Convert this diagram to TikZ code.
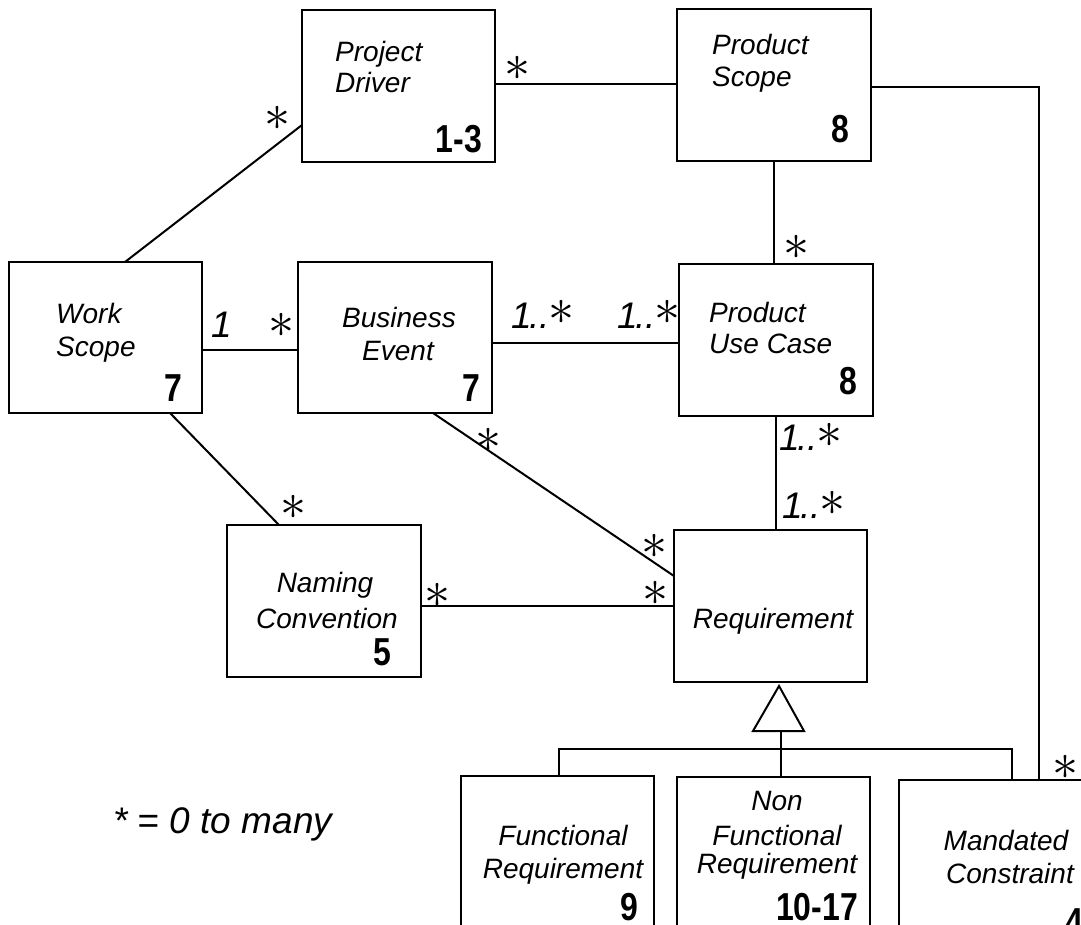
\documentclass[tikz,border=0pt]{standalone}
\usepackage{fontspec}
\usepackage{graphicx}
\setmainfont{Liberation Sans}
\newfontfamily\numfont[FakeStretch=0.82]{Liberation Sans}
\usetikzlibrary{calc}

% six-armed multiplicity star (always built from the 10pt math star) and the "one or more" label
\newcommand\mstar{{\fontsize{10}{10}\selectfont\scalebox{5.2}{$\ast$}}}
\newcommand\oneplus{1\kern-2pt.\kern-1pt.\kern-1pt\raisebox{3pt}{\mstar}}

\tikzset{
  box/.style={draw, line width=2pt, rectangle, inner sep=0pt, outer sep=0pt},
  link/.style={line width=2pt},
  ttl/.style={font=\fontsize{28}{32}\selectfont\itshape, inner sep=0pt},
  num/.style={font=\numfont\bfseries\fontsize{39}{39}\selectfont, inner sep=0pt, anchor=base east},
  mult/.style={font=\fontsize{37}{37}\selectfont\itshape, inner sep=0pt, anchor=base west},
  star/.style={inner sep=0pt},
}

\begin{document}
\begin{tikzpicture}[x=1pt,y=-1pt]
\useasboundingbox (0,0) rectangle (1081,925);
\clip (0,0) rectangle (1081,925);

% ---- class boxes ----
\node[box, minimum width=193pt, minimum height=152pt] (PD)  at (398.5,86)   {};
\node[box, minimum width=194pt, minimum height=152pt] (PS)  at (774,85)     {};
\node[box, minimum width=193pt, minimum height=151pt] (WS)  at (105.5,337.5) {};
\node[box, minimum width=194pt, minimum height=151pt] (BE)  at (395,337.5)  {};
\node[box, minimum width=194pt, minimum height=152pt] (PUC) at (776,340)    {};
\node[box, minimum width=194pt, minimum height=152pt] (NC)  at (324,601)    {};
\node[box, minimum width=193pt, minimum height=152pt] (Req) at (770.5,606)  {};
\node[box, minimum width=193pt, minimum height=184pt] (FR)  at (557.5,868)  {};
\node[box, minimum width=193pt, minimum height=183pt] (NFR) at (773.5,868.5) {};
\node[box, minimum width=193pt, minimum height=180pt] (MC)  at (995.5,870)  {};

% ---- class names ----
\node[ttl, anchor=base west] (pd1) at (335,62)  {Project};
\node[ttl, anchor=base west] (pd2) at (335,93)  {Driver};
\node[ttl, anchor=base west] (ps1) at (712,55)  {Product};
\node[ttl, anchor=base west] (ps2) at (712,87)  {Scope};
\node[ttl, anchor=base west] (ws1) at (56,323)  {Work};
\node[ttl, anchor=base west] (ws2) at (56,356)  {Scope};
\node[ttl, anchor=base] (be1) at (399,327) {Business};
\node[ttl, anchor=base] (be2) at (398,360) {Event};
\node[ttl, anchor=base west] (uc1) at (709,322) {Product};
\node[ttl, anchor=base west] (uc2) at (709,353) {Use Case};
\node[ttl, anchor=base] (nc1) at (325,592) {Naming};
\node[ttl, anchor=base] (nc2) at (327,628) {Convention};
\node[ttl, anchor=base] (rq1) at (773,628) {Requirement};
\node[ttl, anchor=base] (fr1) at (563,845) {Functional};
\node[ttl, anchor=base] (fr2) at (563,878) {Requirement};
\node[ttl, anchor=base] (nf1) at (777,810) {Non};
\node[ttl, anchor=base] (nf2) at (777,845) {Functional};
\node[ttl, anchor=base] (nf3) at (777,873) {Requirement};
\node[ttl, anchor=base] (mc1) at (1006,850) {Mandated};
\node[ttl, anchor=base] (mc2) at (1010,883) {Constraint};

% ---- section numbers ----
\node[num] (pdn)  at (482,153) {1-3};
\node[num] (psn)  at (849,143) {8};
\node[num] (wsn)  at (182,401) {7};
\node[num] (ben)  at (480,401) {7};
\node[num] (ucn)  at (857,394) {8};
\node[num] (ncn)  at (391,665) {5};
\node[num] (frn)  at (638,920) {9};
\node[num] (nfn)  at (858,920) {10-17};
\node[num] (mcn)  at (1083,935) {4};

% ---- associations ----
\draw[link] ($(WS.north west)+(116,0)$) -- ($(PD.north west)+(0,115)$);
\coordinate (pdR) at ($(PD.north east)+(0,74)$);
\draw[link] (pdR) -- (pdR -| PS.west);
\coordinate (psR) at ($(PS.north east)+(0,77.7)$);
\coordinate (mcT) at ($(MC.north west)+(140,0)$);
\draw[link] (psR) -| (mcT);
\draw[link] (PS.south) -- (PS.south |- PUC.north);
\coordinate (wsR) at ($(WS.north east)+(0,88)$);
\draw[link] (wsR) -- (wsR -| BE.west);
\coordinate (beR) at ($(BE.north east)+(0,81)$);
\draw[link] (beR) -- (beR -| PUC.west);
\draw[link] (PUC.south) -- (PUC.south |- Req.north);
\draw[link] ($(WS.south west)+(161,0)$) -- ($(NC.north west)+(52,0)$);
\draw[link] ($(BE.south west)+(135,0)$) -- ($(Req.north west)+(0,46)$);
\coordinate (ncR) at ($(NC.north east)+(0,80.7)$);
\draw[link] (ncR) -- (ncR -| Req.west);

% ---- generalisation ----
\coordinate (apex) at ($(Req.south)+(8.5,4)$);
\draw[link, line join=miter] (apex) -- ++(-26,45) -- ++(51,0) -- cycle;
\coordinate (tbase) at ($(apex)+(2,45)$);
\draw[link] (tbase) -- (tbase |- NFR.north);
\coordinate (barL) at ($(FR.north west)+(98,-27)$);
\coordinate (barR) at ($(MC.north west)+(113,-31)$);
\draw[link] (barL |- FR.north) -- (barL) -- (barR) -- (barR |- MC.north);

% ---- multiplicities ----
\node[star] (m1)  at (277,118)  {\mstar};
\node[star] (m2)  at (517,68)   {\mstar};
\node[star] (m3)  at (796,247)  {\mstar};
\node[star] (m4)  at (281,325)  {\mstar};
\node[star] (m5)  at (293,507)  {\mstar};
\node[star] (m6)  at (488,440)  {\mstar};
\node[star] (m7)  at (654,546)  {\mstar};
\node[star] (m8)  at (437,595)  {\mstar};
\node[star] (m9)  at (655,593)  {\mstar};
\node[star] (m10) at (1065.5,767) {\mstar};
\node[mult] (o1) at (211,337) {1};
\node[mult] (o2) at (511,328) {\oneplus};
\node[mult] (o3) at (617,328) {\oneplus};
\node[mult] (o4) at (779,450) {\oneplus};
\node[mult] (o5) at (782,518) {\oneplus};

% ---- legend ----
\node[font=\fontsize{37}{37}\selectfont\itshape, anchor=base west, inner sep=0pt] (legend) at (113,833) {* = 0 to many};
\end{tikzpicture}
\end{document}
